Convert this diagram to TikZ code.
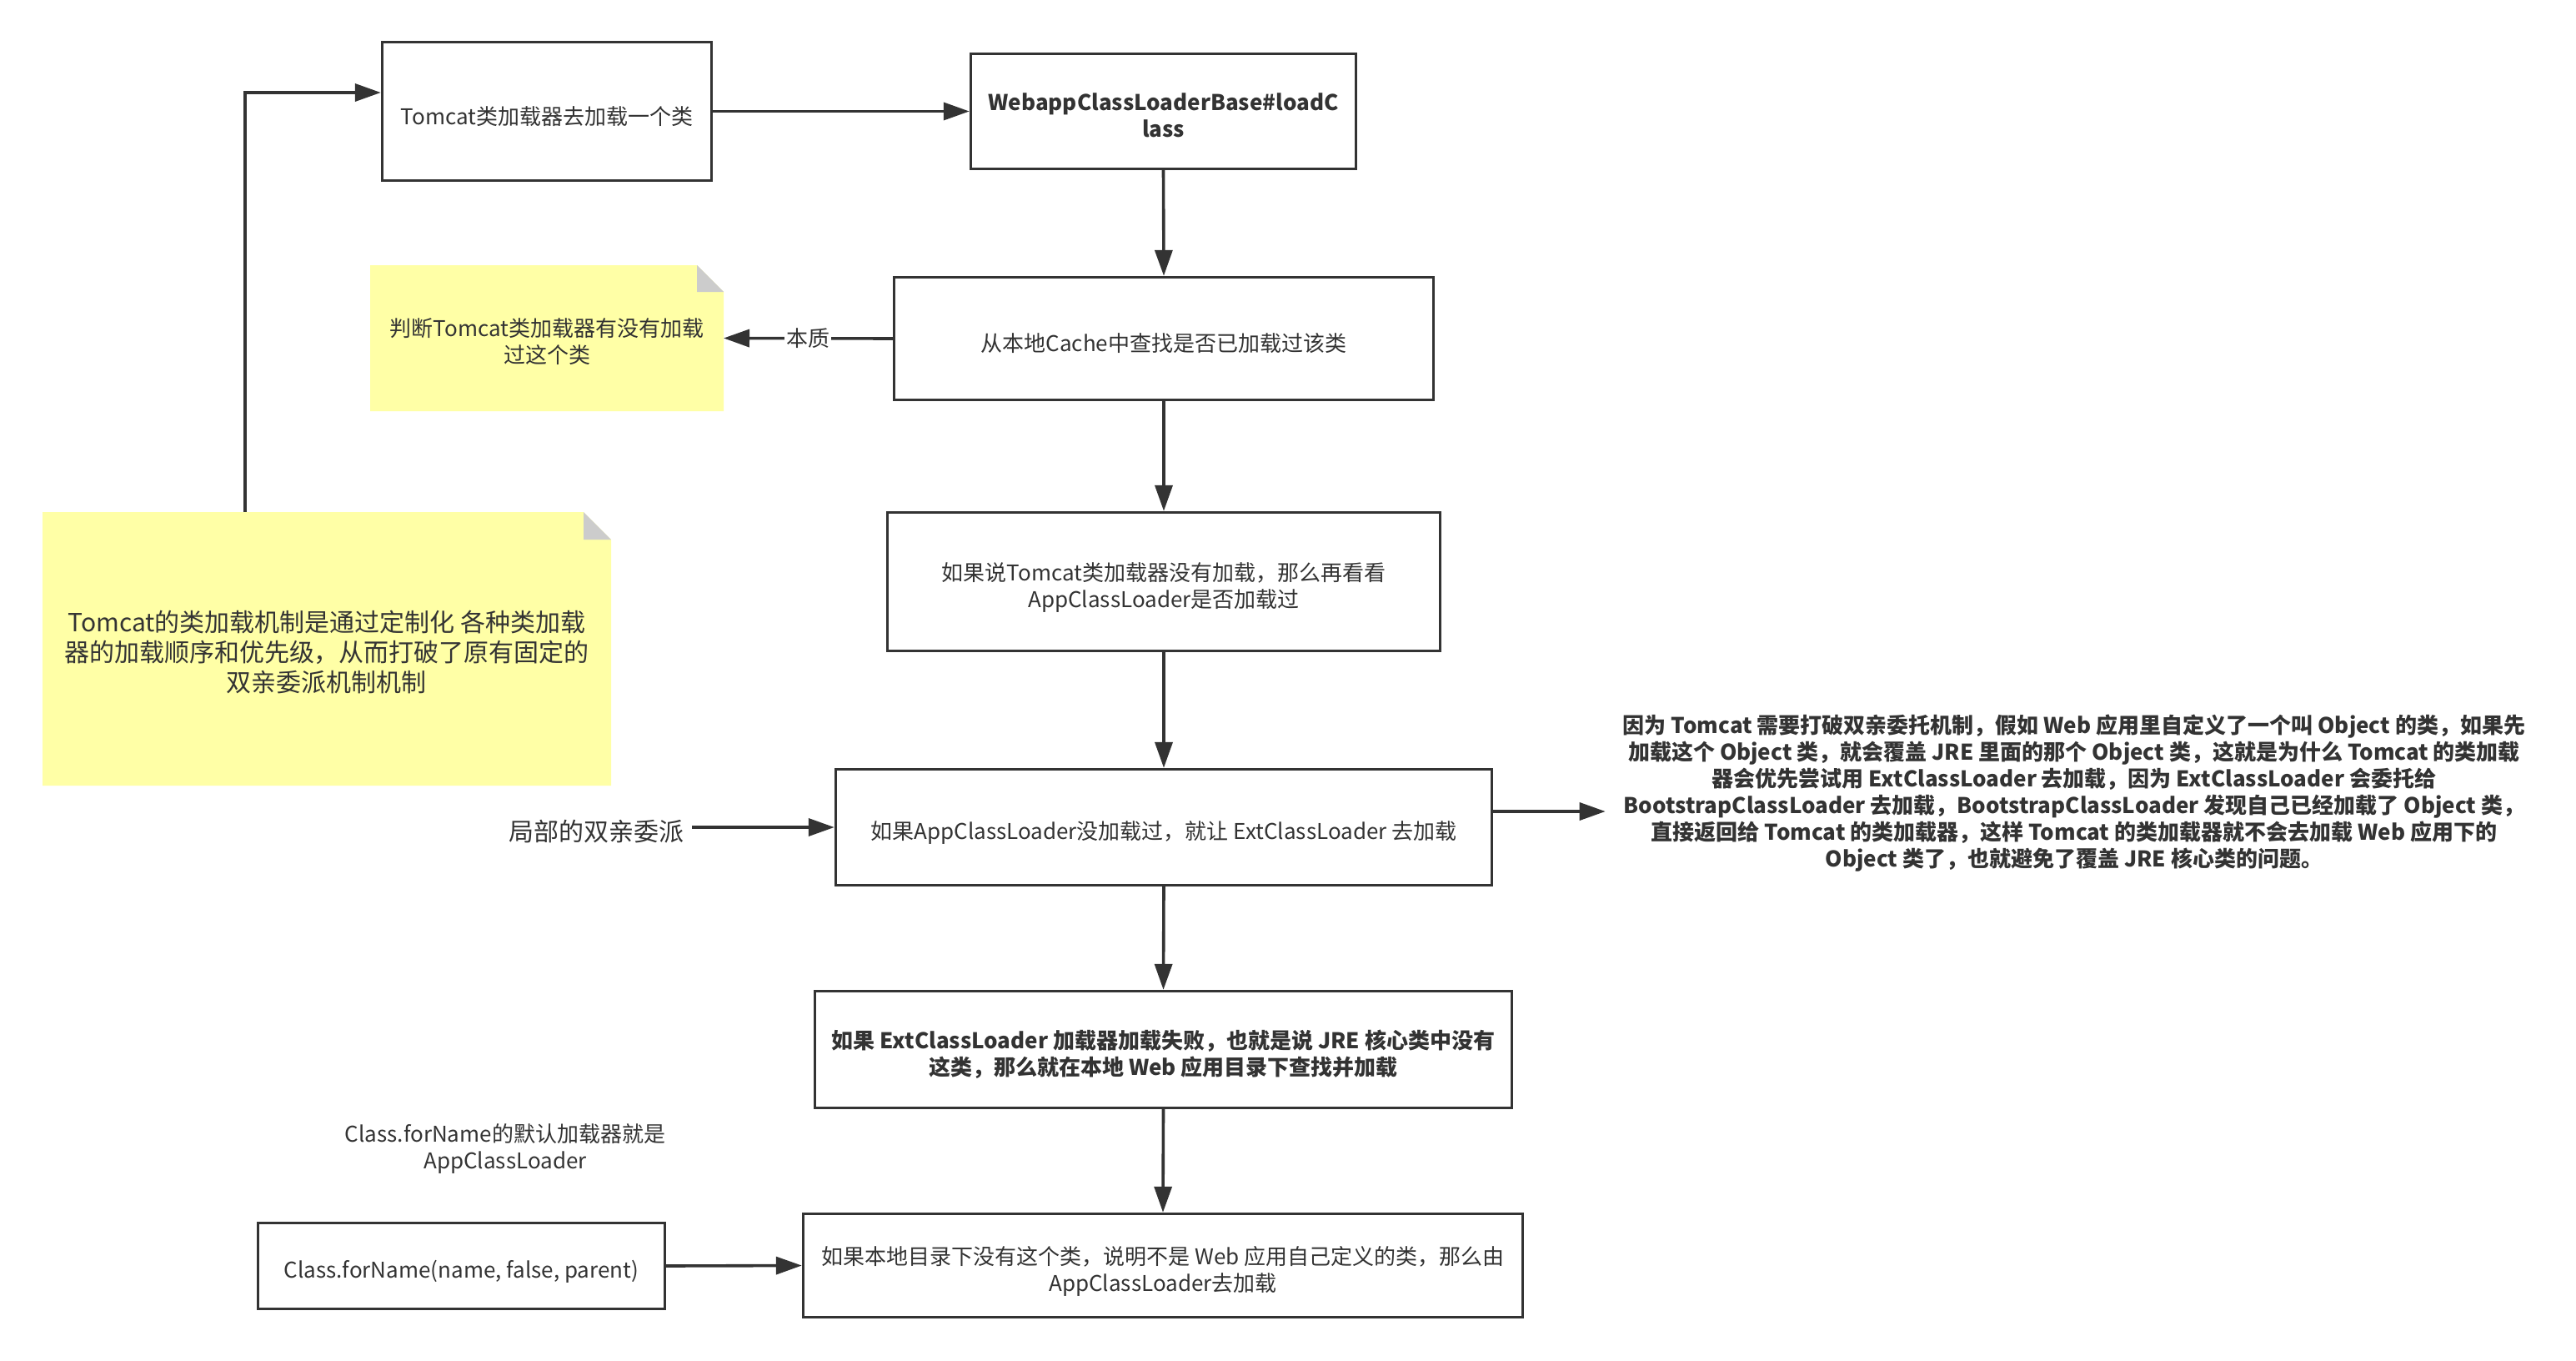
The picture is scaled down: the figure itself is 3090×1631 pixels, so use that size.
\documentclass[tikz,border=0pt]{standalone}
\usepackage{fontspec}
\setmainfont{Noto Sans CJK SC}
\usetikzlibrary{arrows.meta,backgrounds}
\definecolor{ink}{HTML}{333333}
\definecolor{notey}{HTML}{FFFFA6}
\definecolor{foldgray}{HTML}{CCCCCC}
\newcommand\tup[1]{\rule{0pt}{#1}}
\begin{document}
\begin{tikzpicture}[x=1pt,y=-1pt,
  every node/.style={font=\fontsize{26}{32}\selectfont, text=ink},
  box/.style={draw=ink, line width=3.4pt, rectangle, align=center, inner sep=4pt},
  notebox/.style={rectangle, align=center, inner sep=0pt, outer sep=0pt},
  arr/.style={draw=ink, line width=3.6pt, -{Triangle[length=31pt,width=21pt]}},
  plain/.style={align=center, inner sep=2pt},
  bigtext/.style={font=\fontsize{30}{36}\selectfont}]
\useasboundingbox (0,0) rectangle (3090,1631);

% boxes
\node[box, minimum width=395pt, minimum height=166pt] (box1) at (656,133.5) {\tup{34pt}Tomcat类加载器去加载一个类};
\node[box, minimum width=462pt, minimum height=138pt, font=\bfseries\fontsize{26}{32}\selectfont] (box2) at (1395.5,133.5) {\tup{30pt}WebappClassLoaderBase\#loadC\\lass};
\node[box, minimum width=647pt, minimum height=147pt] (box3) at (1396,406) {\tup{33pt}从本地Cache中查找是否已加载过该类};
\node[box, minimum width=663pt, minimum height=166pt] (box4) at (1396,697.5) {\tup{35pt}如果说Tomcat类加载器没有加载，那么再看看\\AppClassLoader是否加载过};
\node[box, minimum width=787pt, minimum height=139pt] (box5) at (1396,992) {\tup{35pt}如果AppClassLoader没加载过，就让 ExtClassLoader 去加载};
\node[box, minimum width=836pt, minimum height=140pt, font=\bfseries\fontsize{26}{32}\selectfont] (box6) at (1395.5,1258.5) {\tup{34pt}如果 ExtClassLoader 加载器加载失败，也就是说 JRE 核心类中没有\\这类，那么就在本地 Web 应用目录下查找并加载};
\node[box, minimum width=488pt, minimum height=103pt] (box7) at (553.5,1518) {\tup{34pt}Class.forName(name, false, parent)};
\node[box, minimum width=863pt, minimum height=124pt] (box8) at (1395,1517.5) {\tup{35pt}如果本地目录下没有这个类，说明不是 Web 应用自己定义的类，那么由\\AppClassLoader去加载};

% notes
\node[notebox, minimum width=424pt, minimum height=175pt] (note1) at (656,405.5) {\tup{31pt}判断Tomcat类加载器有没有加载\\过这个类};
\node[notebox, bigtext, minimum width=682pt, minimum height=328pt] (note2) at (392,778) {\tup{34pt}Tomcat的类加载机制是通过定制化 各种类加载\\器的加载顺序和优先级，从而打破了原有固定的\\双亲委派机制机制};

\begin{scope}[on background layer]
\fill[white] (0,0) rectangle (3090,1631);
\fill[notey] (note1.north west) -- ([xshift=-32pt]note1.north east) -- ([yshift=-32pt]note1.north east) -- (note1.south east) -- (note1.south west) -- cycle;
\fill[foldgray] ([xshift=-32pt]note1.north east) -- ([xshift=-32pt,yshift=-32pt]note1.north east) -- ([yshift=-32pt]note1.north east) -- cycle;
\fill[notey] (note2.north west) -- ([xshift=-33pt]note2.north east) -- ([yshift=-33pt]note2.north east) -- (note2.south east) -- (note2.south west) -- cycle;
\fill[foldgray] ([xshift=-33pt]note2.north east) -- ([xshift=-33pt,yshift=-33pt]note2.north east) -- ([yshift=-33pt]note2.north east) -- cycle;
\end{scope}

% free texts
\node[plain, bigtext, inner xsep=10pt] (local) at (715,997) {局部的双亲委派};
\node[plain] (cfl) at (606,1377) {Class.forName的默认加载器就是\\AppClassLoader};
\node[plain, inner xsep=21pt, font=\bfseries\fontsize{26}{32}\selectfont] (rtext) at (2488,951) {因为 Tomcat 需要打破双亲委托机制，假如 Web 应用里自定义了一个叫 Object 的类，如果先\\加载这个 Object 类，就会覆盖 JRE 里面的那个 Object 类，这就是为什么 Tomcat 的类加载\\器会优先尝试用 ExtClassLoader 去加载，因为 ExtClassLoader 会委托给\\BootstrapClassLoader 去加载，BootstrapClassLoader 发现自己已经加载了 Object 类，\\直接返回给 Tomcat 的类加载器，这样 Tomcat 的类加载器就不会去加载 Web 应用下的\\Object 类了，也就避免了覆盖 JRE 核心类的问题。};

% connectors
\draw[arr] (box1.east) -- (box2.west);
\draw[arr] (box2.south) -- (box3.north);
\draw[arr] (box3.south) -- (box4.north);
\draw[arr] (box4.south) -- (box5.north);
\draw[arr] (box5.south) -- (box6.north);
\draw[arr] (box6.south) -- (box8.north);
\draw[arr] (box7.east) -- (box8.west);
\draw[arr] (box3.west) -- (note1.east) node[pos=0.5, fill=white, inner sep=2pt] (ess) {本质};
\draw[arr] ([xshift=-98pt]note2.north) |- ([yshift=22.5pt]box1.west);
\draw[arr] (local.east |- box5.west) -- (box5.west);
\draw[arr] ([yshift=19pt]box5.east) -- ([yshift=19pt]box5.east -| rtext.west);
\end{tikzpicture}
\end{document}
